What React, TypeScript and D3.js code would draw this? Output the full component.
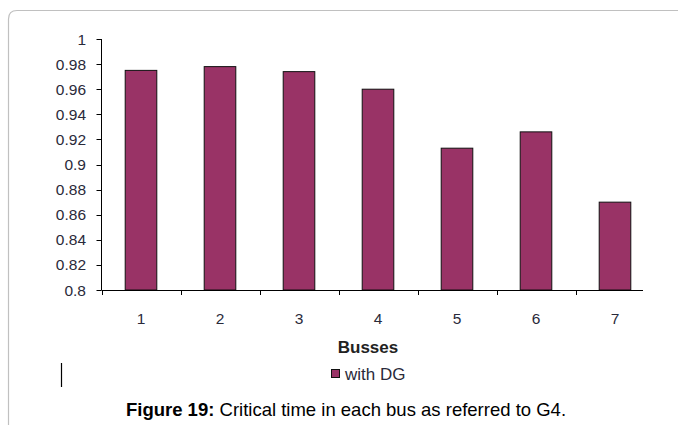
import React, { useRef, useEffect } from "react";
import * as d3 from "d3";

const categories = ["1", "2", "3", "4", "5", "6", "7"];
const withDG = [0.975, 0.978, 0.974, 0.96, 0.913, 0.926, 0.87];
const yTicks = [0.8, 0.82, 0.84, 0.86, 0.88, 0.9, 0.92, 0.94, 0.96, 0.98, 1];
const seriesName = "with DG";
const xTitle = "Busses";

const App = () => {
  const canvas = useRef<SVGSVGElement>(null);

  const width = 678;
  const height = 425;
  const left = 101.5;
  const top = 39;
  const bottom = 290;
  const bandW = 79;
  const axisEnd = 643;
  const font = "Arial, 'Liberation Sans', sans-serif";

  const drawChart = () => {
    const svg = d3.select(canvas.current);
    svg.selectAll("*").remove();

    // frame (top + left only, rounded corner)
    svg.append("path")
      .attr("d", "M8.5,425 L8.5,19 Q8.5,10.5 17,10.5 L678,10.5")
      .attr("fill", "none")
      .attr("stroke", "#c0c0c0")
      .attr("stroke-width", 1.2);

    const x = d3.scaleBand()
      .domain(categories)
      .range([left, left + bandW * categories.length])
      .paddingInner(0.6)
      .paddingOuter(0.3);

    const y = d3.scaleLinear()
      .domain([0.8, 1])
      .range([bottom, top]);

    const g = svg.append("g");

    // bars
    g.selectAll("rect.bar")
      .data(withDG)
      .enter()
      .append("rect")
      .attr("class", "bar")
      .attr("x", (_d, i) => x(categories[i]) as number)
      .attr("y", d => y(d))
      .attr("width", x.bandwidth())
      .attr("height", d => y(0.8) - y(d))
      .attr("fill", "#993366")
      .attr("stroke", "#111")
      .attr("stroke-width", 1);

    // y axis
    g.append("line")
      .attr("x1", left).attr("x2", left)
      .attr("y1", top).attr("y2", bottom)
      .attr("stroke", "#000");
    g.selectAll("line.ytick")
      .data(yTicks)
      .enter()
      .append("line")
      .attr("class", "ytick")
      .attr("x1", left - 5).attr("x2", left)
      .attr("y1", d => Math.round(y(d)) + 0.5)
      .attr("y2", d => Math.round(y(d)) + 0.5)
      .attr("stroke", "#000");
    g.selectAll("text.ylab")
      .data(yTicks)
      .enter()
      .append("text")
      .attr("class", "ylab")
      .attr("x", 86)
      .attr("y", d => y(d) + 5.5)
      .attr("text-anchor", "end")
      .attr("font-family", font)
      .attr("font-size", 15.5)
      .attr("fill", "#2a2a3a")
      .text(d => String(+d.toFixed(2)));

    // x axis
    g.append("line")
      .attr("x1", left).attr("x2", axisEnd)
      .attr("y1", bottom + 0.5).attr("y2", bottom + 0.5)
      .attr("stroke", "#000");
    const bounds = d3.range(categories.length + 1)
      .map(i => left + bandW * i)
      .filter(v => v < axisEnd);
    g.selectAll("line.xtick")
      .data(bounds)
      .enter()
      .append("line")
      .attr("class", "xtick")
      .attr("x1", d => Math.round(d) + 0.5).attr("x2", d => Math.round(d) + 0.5)
      .attr("y1", bottom).attr("y2", bottom + 5)
      .attr("stroke", "#000");
    g.selectAll("text.xlab")
      .data(categories)
      .enter()
      .append("text")
      .attr("class", "xlab")
      .attr("x", d => (x(d) as number) + x.bandwidth() / 2)
      .attr("y", 324)
      .attr("text-anchor", "middle")
      .attr("font-family", font)
      .attr("font-size", 15.5)
      .attr("fill", "#2a2a3a")
      .text(d => d);

    g.append("text")
      .attr("x", 368)
      .attr("y", 353)
      .attr("text-anchor", "middle")
      .attr("font-family", font)
      .attr("font-size", 17)
      .attr("font-weight", "bold")
      .attr("fill", "#222")
      .text(xTitle);

    // legend
    g.append("rect")
      .attr("x", 331.5).attr("y", 369.5)
      .attr("width", 8).attr("height", 8)
      .attr("fill", "#993366")
      .attr("stroke", "#111");
    g.append("text")
      .attr("x", 345)
      .attr("y", 380)
      .attr("font-family", font)
      .attr("font-size", 17)
      .attr("fill", "#2a2a3a")
      .text(seriesName);

    // stray cursor mark
    g.append("line")
      .attr("x1", 61.5).attr("x2", 61.5)
      .attr("y1", 363).attr("y2", 387)
      .attr("stroke", "#000")
      .attr("stroke-width", 1.2);

    // caption
    const cap = svg.append("text")
      .attr("x", 346)
      .attr("y", 416)
      .attr("text-anchor", "middle")
      .attr("font-family", font)
      .attr("font-size", 18.5)
      .attr("fill", "#000");
    cap.append("tspan").attr("font-weight", "bold").text("Figure 19:");
    cap.append("tspan").text(" Critical time in each bus as referred to G4.");
  };

  useEffect(() => {
    drawChart();
  });

  return (
    <svg
      ref={canvas}
      width={width}
      height={height}
      style={{ position: "absolute", left: 0, top: 0, background: "#fff" }}
    />
  );
};

export default App;
